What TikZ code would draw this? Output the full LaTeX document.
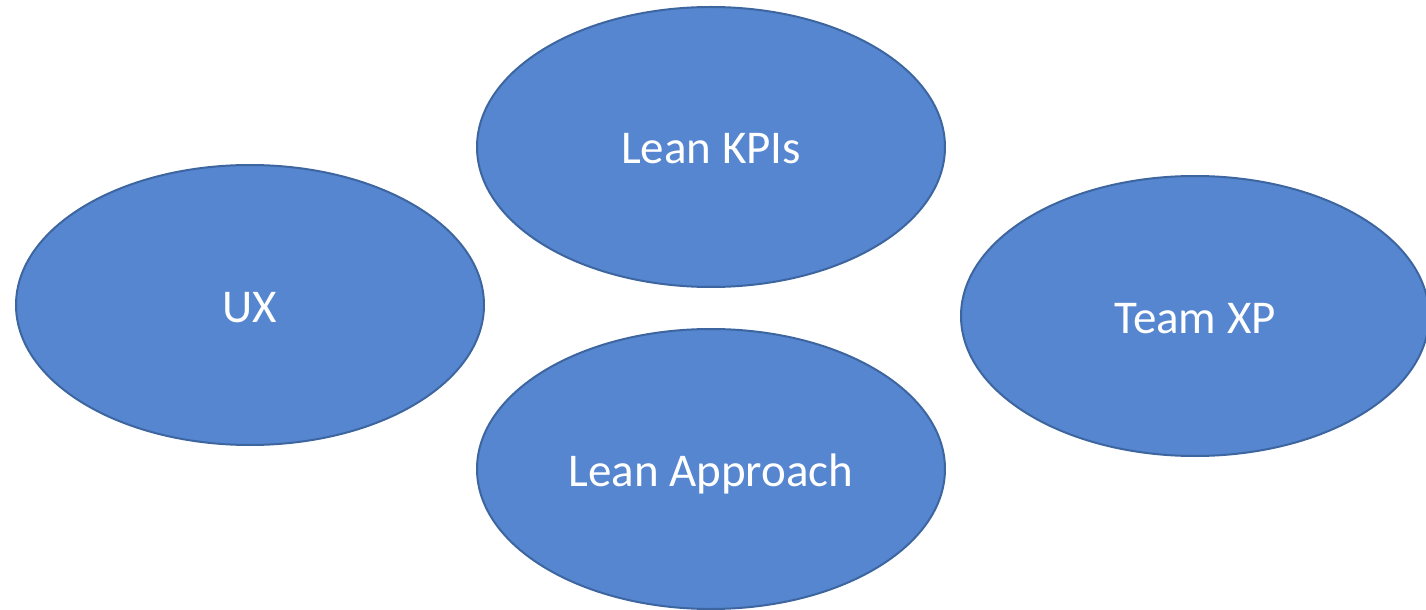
\documentclass[tikz,border=0pt]{standalone}
\usepackage{fontspec}
\setmainfont{Carlito}
\usetikzlibrary{shapes.geometric}

\definecolor{BubbleFill}{HTML}{5586CF}
\definecolor{BubbleLine}{HTML}{3D65A0}

\tikzset{
  bubble/.style={ellipse, draw=BubbleLine, fill=BubbleFill, line width=1pt,
    minimum width=234pt, minimum height=140pt, inner sep=0pt,
    text height=17pt, text depth=0pt,
    text=white, font=\fontsize{23.5}{28}\selectfont}
}

\begin{document}
\begin{tikzpicture}[x=0.5pt,y=-0.5pt]

\useasboundingbox (0,0) rectangle (1426,610);

\node[bubble] (UX) at (250,305) {UX};
\node[bubble] (KPIs) at (711,147) {Lean KPIs};
\node[bubble] (XP) at (1195,316) {Team XP};
\node[bubble] (Approach) at (711,469) {Lean Approach};

\end{tikzpicture}
\end{document}
